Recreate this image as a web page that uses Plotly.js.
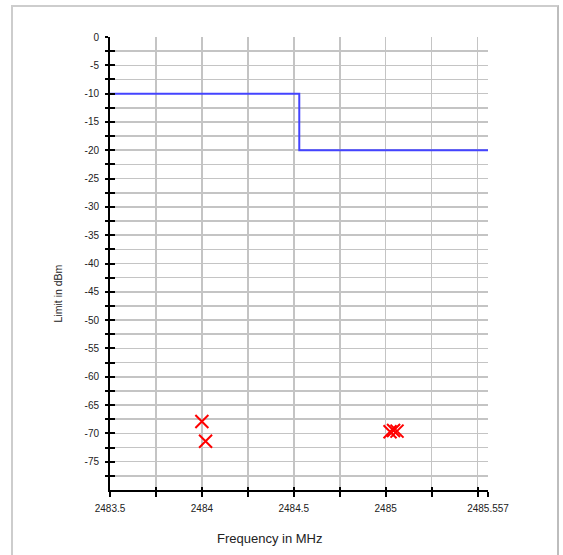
<!DOCTYPE html>
<html>
<head>
<meta charset="utf-8">
<script src="https://cdn.plot.ly/plotly-3.0.1.min.js"></script>
<style>
html,body{margin:0;padding:0;background:#fff;}
#wrap{position:relative;width:563px;height:555px;overflow:hidden;}
#chart{position:absolute;left:0;top:0;width:563px;height:555px;}
#frame{position:absolute;left:11px;top:5px;width:544px;height:580px;border:2px solid #cdcdcd;border-right-color:#bdbdbd;pointer-events:none;}
</style>
</head>
<body>
<div id="wrap"><div id="chart"></div><div id="frame"></div></div>
<script>
// Limit line (step)
const limitFreq = [2483.5, 2484.53, 2485.557];
const limitLevel = [-10, -20, -20];
// Measured points
const measFreq = [2484.00, 2484.02, 2485.024, 2485.043, 2485.062];
const measLevel = [-67.9, -71.4, -69.7, -69.5, -69.6];
// Tick definitions
const xTickVals = [2483.5, 2483.75, 2484, 2484.25, 2484.5, 2484.75, 2485, 2485.25, 2485.5, 2485.557];
const xTickText = ['2483.5', '', '2484', '', '2484.5', '', '2485', '', '', '2485.557'];
const yTickVals = [0, -2.5, -5, -7.5, -10, -12.5, -15, -17.5, -20, -22.5, -25, -27.5, -30, -32.5, -35, -37.5, -40, -42.5, -45, -47.5, -50, -52.5, -55, -57.5, -60, -62.5, -65, -67.5, -70, -72.5, -75, -77.5];
const yTickText = yTickVals.map(v => (v % 5 === 0 ? String(v) : ''));

const font = {family: 'Arial, "Liberation Sans", sans-serif', color: '#222', size: 10};

const traces = [
  {x: limitFreq, y: limitLevel, type: 'scatter', mode: 'lines', line: {shape: 'hv', color: '#4444ff', width: 2}, hoverinfo: 'none'},
  {x: measFreq, y: measLevel, type: 'scatter', mode: 'markers', marker: {symbol: 'x-thin', size: 13, color: 'red', line: {color: 'red', width: 2}}, hoverinfo: 'none'},
  {x: [limitFreq[0]], y: [limitLevel[0]], xaxis: 'x2', yaxis: 'y2', type: 'scatter', mode: 'none', hoverinfo: 'none'}
];

const common = {showline: false, zeroline: false, fixedrange: true};
const layout = {
  width: 563, height: 555,
  margin: {l: 110, r: 75, t: 37, b: 65},
  paper_bgcolor: 'rgba(0,0,0,0)', plot_bgcolor: '#fff',
  showlegend: false,
  font: font,
  xaxis: Object.assign({}, common, {
    range: [2483.5, 2485.557], tickmode: 'array', tickvals: xTickVals, ticktext: xTickText,
    showgrid: true, gridcolor: '#c4c4c4', gridwidth: 1.6,
    showline: true, linecolor: '#000', linewidth: 2,
    ticks: 'outside', ticklen: 5, tickwidth: 2, tickcolor: '#000', ticklabelstandoff: 3,
    tickfont: {size: 10, color: '#222'}
  }),
  yaxis: Object.assign({}, common, {
    range: [-80, 0], tickmode: 'array', tickvals: yTickVals, ticktext: yTickText,
    showgrid: true, gridcolor: '#c4c4c4', gridwidth: 1.6,
    showline: true, linecolor: '#000', linewidth: 2,
    ticks: 'outside', ticklen: 3, tickwidth: 2, tickcolor: '#000', ticklabelstandoff: 4,
    tickfont: {size: 10, color: '#222'}
  }),
  xaxis2: Object.assign({}, common, {
    overlaying: 'x', matches: 'x', range: [2483.5, 2485.557], tickmode: 'array', tickvals: xTickVals, ticktext: xTickVals.map(() => ''),
    showgrid: false, ticks: 'inside', ticklen: 3, tickwidth: 2, tickcolor: '#000', side: 'bottom', anchor: 'y2'
  }),
  yaxis2: Object.assign({}, common, {
    overlaying: 'y', range: [-80, 0], tickmode: 'array', tickvals: yTickVals, ticktext: yTickVals.map(() => ''),
    showgrid: false, ticks: 'inside', ticklen: 5, tickwidth: 2, tickcolor: '#000', side: 'left', anchor: 'x2'
  }),
  annotations: [
    {text: 'Limit in dBm', xref: 'paper', yref: 'paper', x: -0.139, y: 0.435, textangle: -90, showarrow: false, font: {size: 10.5, color: '#222', family: font.family}, xanchor: 'center', yanchor: 'middle'},
    {text: 'Frequency in MHz', xref: 'paper', yref: 'paper', x: 0.422, y: -0.106, showarrow: false, font: {size: 13, color: '#222', family: font.family}, xanchor: 'center', yanchor: 'middle'}
  ]
};

Plotly.newPlot('chart', traces, layout, {staticPlot: true, displayModeBar: false});
</script>
</body>
</html>
